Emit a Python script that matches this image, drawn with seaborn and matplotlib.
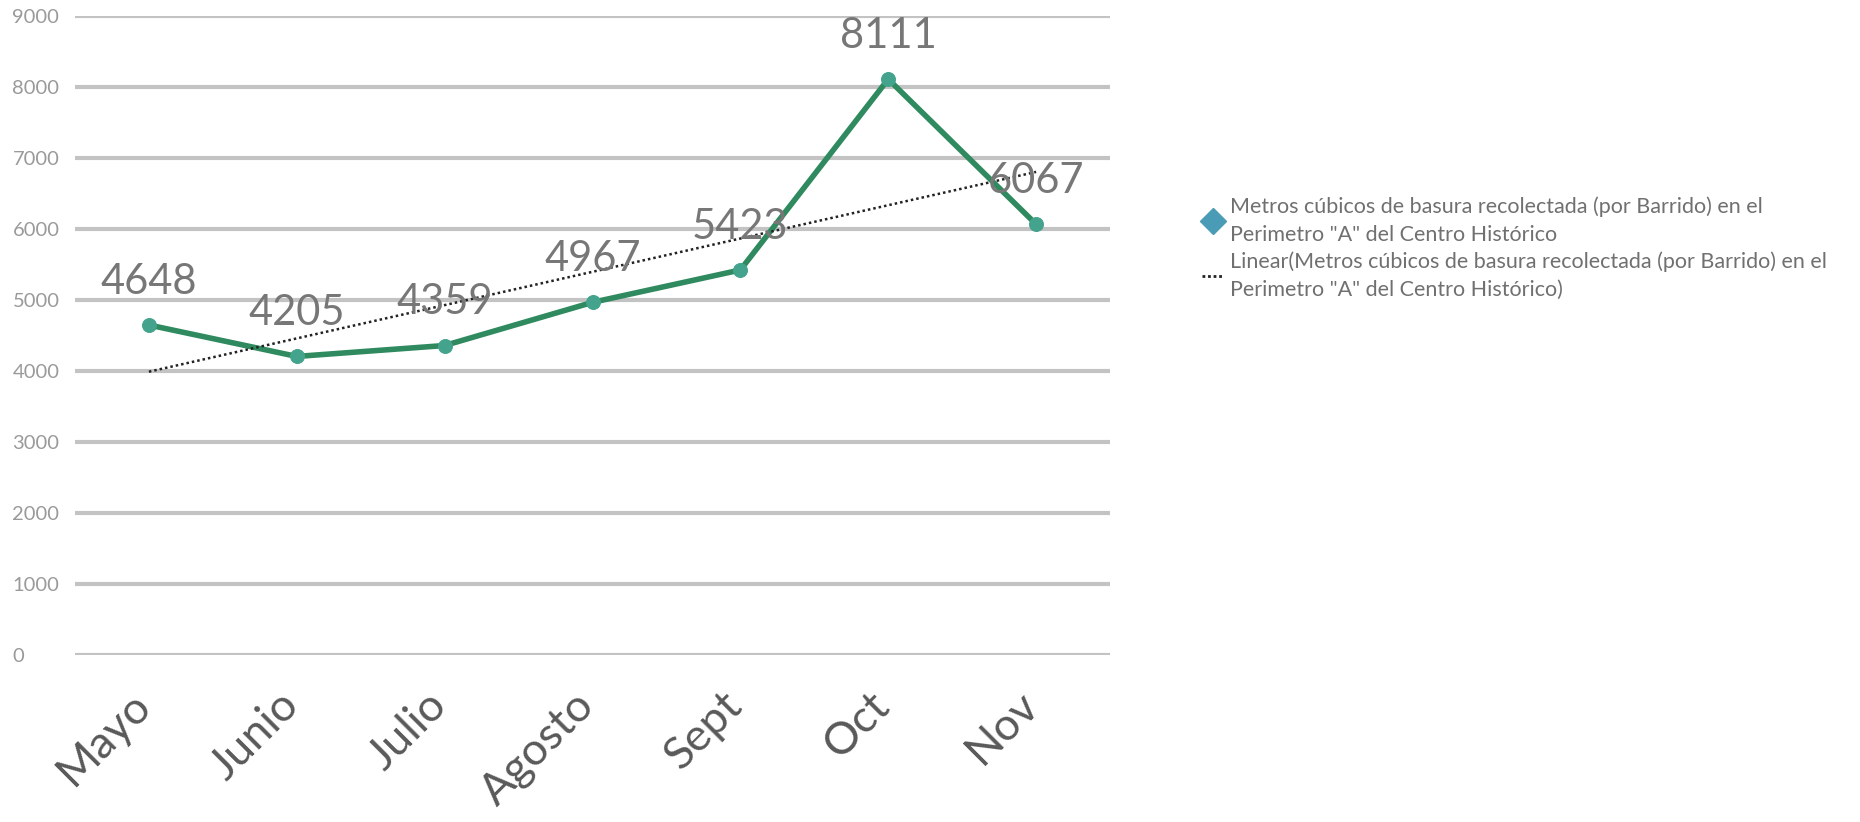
import matplotlib
matplotlib.use("Agg")
import matplotlib.pyplot as plt
from matplotlib.lines import Line2D
from matplotlib.transforms import ScaledTranslation
import seaborn as sns
import numpy as np
import pandas as pd

meses = ["Mayo", "Junio", "Julio", "Agosto", "Sept", "Oct", "Nov"]
metros = [4648, 4205, 4359, 4967, 5423, 8111, 6067]
yticks = [0, 1000, 2000, 3000, 4000, 5000, 6000, 7000, 8000, 9000]

serie_label = 'Metros cúbicos de basura recolectada (por Barrido) en el\nPerimetro "A" del Centro Histórico'
trend_label = 'Linear(Metros cúbicos de basura recolectada (por Barrido) en el\nPerimetro "A" del Centro Histórico)'

sns.set_theme(style="white")
plt.rcParams['font.family'] = ['Lato', 'DejaVu Sans']

df = pd.DataFrame({'mes': meses, 'metros': metros})
idx = np.arange(len(meses))

fig = plt.figure(figsize=(18.6, 8.22), dpi=100)
ax = fig.add_axes([0.0403, 0.2032, 0.5565, 0.7773])

# grid lines first
for v in yticks:
    ax.axhline(v, color='#c3c3c3', lw=3, zorder=0)

sns.lineplot(data=df, x='mes', y='metros', sort=False, ax=ax, color='#2f8a5f', lw=4,
             marker='o', markersize=10, markerfacecolor='#43a38c', markeredgecolor='#43a38c', zorder=3)

# linear trend line (like Excel)
coef = np.polyfit(idx, metros, 1)
trend = np.polyval(coef, idx)
ax.plot(idx, trend, color='#222222', lw=1.8, ls=(0, (1, 1.2)), zorder=4)

for i, v in enumerate(metros):
    ax.annotate(str(v), (i, v), xytext=(0, 31), textcoords='offset points', ha='center',
                va='center', fontsize=30, color='#777777', zorder=5)

ax.set_xlim(-0.5, len(meses) - 0.5)
ax.set_ylim(0, 9000)
ax.set_yticks(yticks)
ax.set_yticklabels([str(v) for v in yticks])
ax.set_xlabel('')
ax.set_ylabel('')
for s in ax.spines.values():
    s.set_visible(False)

ax.tick_params(axis='y', length=0, pad=45, labelsize=14.5, labelcolor='#9a9a9a')
for t in ax.get_yticklabels():
    t.set_horizontalalignment('left')
ax.tick_params(axis='x', length=0, pad=21, labelsize=32.5, labelcolor='#595959')
shift = ScaledTranslation(10 / 100, 0, fig.dpi_scale_trans)
for t in ax.get_xticklabels():
    t.set_rotation(45)
    t.set_ha('right')
    t.set_va('top')
    t.set_transform(t.get_transform() + shift)

handles = [Line2D([], [], ls='none', marker='D', markersize=13, color='#4a9bb5'),
           Line2D([], [], color='#222222', lw=2, ls=(0, (1, 1)))]
leg = fig.legend(handles, [serie_label, trend_label], loc='upper left',
                 bbox_to_anchor=(0.636, 0.785), frameon=False, fontsize=15.5,
                 handlelength=1.0, handletextpad=0.3, labelspacing=0.3, labelcolor='#707070')
for t in leg.get_texts():
    t.set_linespacing(1.5)

fig.savefig('out.png', dpi=100)
